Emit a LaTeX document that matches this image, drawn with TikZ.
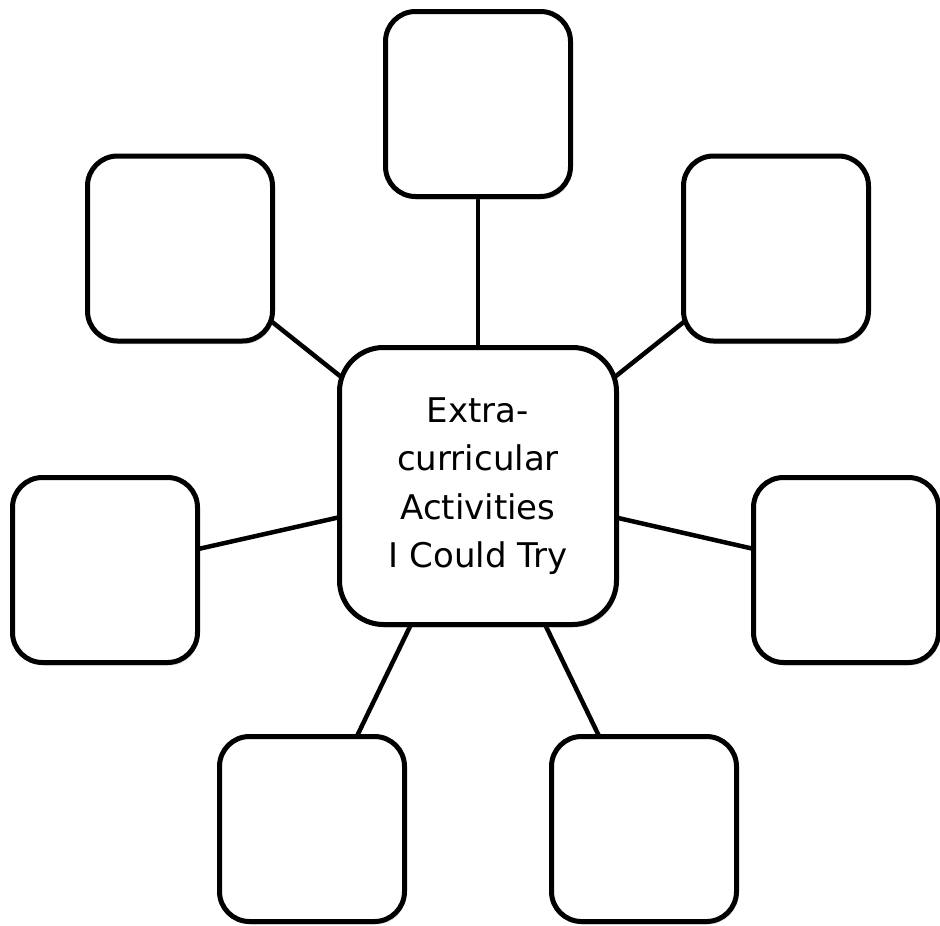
\documentclass[tikz,border=0pt]{standalone}
\usepackage{fontspec}
\setmainfont{DejaVu Sans}
\usetikzlibrary{backgrounds,shadows}
\begin{document}
\begin{tikzpicture}[x=1pt,y=-1pt,
  box/.style={draw=black,line width=5pt,fill=white,rounded corners=30pt,
    minimum width=185pt,minimum height=185pt,inner sep=0pt,
    drop shadow={opacity=0.3,shadow xshift=1.5pt,shadow yshift=-3pt}},
  hub/.style={box,minimum width=277pt,minimum height=277pt,rounded corners=44pt,
    align=center,font=\fontsize{34}{48.5}\selectfont},
  link/.style={draw=black,line width=4.5pt}]
\useasboundingbox (0,0) rectangle (940,926);
\node[hub] (c) at (478,486) {Extra-\\curricular\\Activities\\I Could Try};
\node[box] (t) at (478,104) {};
\node[box] (ul) at (180,248.5) {};
\node[box] (ur) at (776,248.5) {};
\node[box] (l) at (105,570) {};
\node[box] (r) at (846,570) {};
\node[box] (bl) at (312,829) {};
\node[box] (br) at (644,829) {};
\begin{scope}[on background layer]
\foreach \n in {t,ul,ur,l,r,bl,br} \draw[link] (c.center) -- (\n.center);
\end{scope}
\end{tikzpicture}
\end{document}
